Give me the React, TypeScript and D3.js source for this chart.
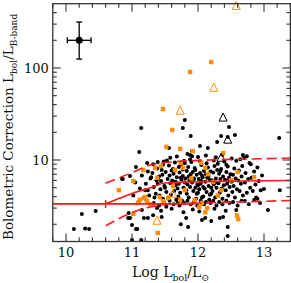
import React from 'react';
import * as d3 from 'd3';

// black dots: [log Lbol, bolometric correction]
const blackPoints: [number, number][] = [
  [10.12, 1.78], [10.24, 2.59], [10.29, 1.8], [10.35, 1.78], [10.45, 2.79],
  [10.86, 6.2], [10.97, 6.7], [10.97, 2.34], [11.0, 1.96], [11.08, 1.78], [11.0, 1.35],
  [11.06, 8.4], [11.11, 12.2], [11.14, 22.3], [11.23, 9.3], [11.39, 9.5],
  [10.94, 2.34], [10.95, 2.66], [11.15, 2.86], [11.18, 2.34], [11.24, 2.34], [11.06, 1.78],
  [11.32, 2.5], [11.38, 3.0], [11.29, 6.5], [11.2, 4.7], [11.24, 4.7], [11.39, 6.2], [10.85, 6.2],
  [11.8, 27.2], [11.77, 22.3], [11.89, 18.2], [12.35, 18.2], [12.47, 22.9], [12.45, 17.8],
  [12.56, 18.7], [13.23, 17.3], [12.03, 14.2], [12.29, 15.7], [11.56, 13.5], [12.15, 13.5],
  [11.91, 12.5], [11.88, 11.3], [12.68, 11.3], [12.74, 11.0], [12.7, 10.5],
  [13.24, 4.7], [13.0, 4.84], [13.06, 2.86],
  [11.45, 2.4], [11.82, 2.34], [11.74, 2.0], [11.85, 1.87], [12.11, 2.34], [12.2, 2.17],
  [12.33, 2.34], [12.38, 2.4], [12.45, 1.49], [12.58, 2.86], [12.71, 3.58], [12.85, 3.67],
  [12.94, 3.41], [12.06, 2.22], [12.45, 1.87], [11.14, 1.35],
  [11.21, 5.5], [11.24, 7.5], [11.26, 4.1], [11.28, 6.3], [11.22, 3.6],
  [11.12, 4.9], [11.15, 6.8], [11.18, 3.9], [11.05, 5.7], [11.1, 3.5], [11.02, 4.1],
  [11.31, 7.2], [11.33, 5.1], [11.36, 4.3], [11.38, 8.1], [11.34, 3.9], [11.37, 6.0], [11.32, 9.0], [11.39, 5.5],
  [11.41, 6.6], [11.43, 4.8], [11.45, 7.8], [11.47, 3.8], [11.44, 5.9], [11.48, 9.6], [11.42, 4.1], [11.46, 6.9], [11.49, 5.2],
  [11.51, 7.4], [11.52, 4.5], [11.54, 6.2], [11.56, 8.7], [11.55, 3.9], [11.58, 5.6], [11.53, 9.9], [11.57, 6.8], [11.59, 4.2], [11.5, 5.0],
  [11.61, 6.0], [11.62, 8.0], [11.64, 4.6], [11.63, 7.1], [11.66, 5.3], [11.65, 9.4], [11.67, 3.7], [11.68, 6.5], [11.69, 4.9], [11.6, 7.7], [11.66, 5.8],
  [11.71, 5.5], [11.72, 7.3], [11.73, 4.4], [11.74, 8.9], [11.75, 6.1], [11.76, 3.6], [11.77, 6.7], [11.78, 5.0], [11.79, 9.8], [11.7, 4.0], [11.74, 6.4], [11.77, 7.9],
  [11.81, 6.3], [11.82, 4.7], [11.83, 7.6], [11.84, 5.4], [11.85, 8.4], [11.86, 3.9], [11.87, 6.0], [11.88, 5.1], [11.89, 7.0], [11.8, 9.2], [11.83, 4.3], [11.86, 6.6], [11.88, 10.1],
  [11.91, 5.7], [11.92, 7.4], [11.93, 4.6], [11.94, 6.3], [11.95, 8.2], [11.96, 5.0], [11.97, 3.8], [11.98, 6.9], [11.99, 5.4], [11.9, 9.5], [11.93, 6.0], [11.96, 7.8], [11.98, 4.3], [11.91, 11.0],
  [12.01, 6.2], [12.02, 4.8], [12.03, 7.2], [12.04, 5.5], [12.05, 8.8], [12.06, 3.9], [12.07, 6.5], [12.08, 5.1], [12.09, 7.6], [12.0, 4.4], [12.03, 9.7], [12.05, 5.9], [12.08, 4.0], [12.06, 6.8],
  [12.11, 5.8], [12.12, 7.0], [12.13, 4.5], [12.14, 6.4], [12.15, 8.3], [12.16, 5.2], [12.17, 3.7], [12.18, 6.1], [12.19, 7.5], [12.1, 4.9], [12.13, 9.2], [12.16, 6.7], [12.18, 4.2],
  [12.21, 6.0], [12.22, 4.6], [12.23, 7.3], [12.24, 5.4], [12.25, 8.6], [12.26, 3.9], [12.27, 6.3], [12.28, 5.0], [12.29, 7.8], [12.2, 4.3], [12.24, 9.9], [12.27, 5.7],
  [12.31, 5.6], [12.32, 7.1], [12.33, 4.4], [12.34, 6.2], [12.35, 8.0], [12.36, 4.9], [12.37, 3.8], [12.38, 6.6], [12.39, 5.3], [12.3, 9.1], [12.34, 7.6],
  [12.41, 6.1], [12.42, 4.7], [12.43, 7.4], [12.44, 5.5], [12.45, 8.5], [12.46, 4.1], [12.47, 6.4], [12.48, 5.1], [12.49, 7.0], [12.4, 9.6],
  [12.51, 5.8], [12.52, 4.5], [12.53, 6.9], [12.54, 5.2], [12.55, 8.1], [12.56, 3.9], [12.57, 6.3], [12.59, 4.8],
  [12.61, 6.0], [12.62, 7.7], [12.63, 4.6], [12.65, 5.5], [12.67, 8.6], [12.68, 4.1], [12.66, 6.6],
  [12.71, 5.7], [12.72, 7.2], [12.74, 4.4], [12.76, 6.2], [12.78, 9.3], [12.79, 5.0],
  [12.81, 6.4], [12.83, 4.6], [12.85, 7.5], [12.87, 5.4], [12.88, 3.9],
  [12.92, 5.9], [12.95, 4.7], [12.97, 6.8],
  // lower edge of the cloud
  [11.33, 3.4], [11.41, 3.2], [11.48, 3.5], [11.52, 3.1], [11.57, 3.6], [11.63, 3.3], [11.69, 3.5],
  [11.72, 3.2], [11.79, 3.4], [11.84, 3.6], [11.89, 3.3], [11.94, 3.5], [11.99, 3.2], [12.04, 3.6],
  [12.09, 3.3], [12.12, 3.5], [12.19, 3.4], [12.23, 3.6], [12.28, 3.2], [12.32, 3.5], [12.37, 3.3],
  [12.43, 3.6], [12.48, 3.4], [12.53, 3.5], [12.6, 3.2], [12.66, 3.6], [12.77, 3.3], [12.9, 3.8],
  [11.44, 2.8], [11.6, 2.95], [11.78, 2.7], [11.92, 2.9], [12.02, 2.75], [12.25, 2.95], [12.42, 2.8],
  // upper edge
  [11.58, 10.6], [11.68, 10.9], [11.84, 11.6], [12.0, 10.8], [12.12, 11.2], [12.27, 10.7],
  [12.37, 11.4], [12.51, 10.4], [12.58, 9.8], [12.64, 10.2], [12.8, 9.0], [12.9, 8.3],
  [11.47, 8.9], [11.71, 8.4], [12.43, 8.9], [12.2, 5.0], [12.0, 5.3], [11.8, 5.7], [12.46, 5.9],
];

const orangeSquares: [number, number][] = [
  [12.2, 116], [11.88, 90.6], [11.47, 35.8], [11.61, 21.2], [11.02, 5.9], [10.8, 4.7],
  [11.02, 2.6], [11.09, 3.41], [11.18, 3.86], [11.23, 3.58], [11.52, 13.9], [11.73, 13.2],
  [11.39, 1.61], [12.59, 2.5], [12.61, 2.28], [12.11, 2.7], [11.92, 12.5], [12.38, 11.9],
  [11.44, 8.6], [11.74, 9.3], [12.05, 9.3], [12.15, 7.0], [11.12, 3.7], [11.2, 3.96],
  [11.38, 6.4], [11.35, 8.2], [11.17, 7.8], [11.65, 7.8], [11.77, 8.2], [12.11, 8.2],
  [11.8, 4.7], [11.55, 3.86], [11.47, 3.58], [11.95, 3.67], [12.14, 3.0], [12.06, 3.41],
  [12.6, 7.4], [12.23, 5.76], [12.35, 4.7], [12.85, 6.5], [12.02, 3.1], [11.73, 3.7], [11.42, 3.96],
  [11.62, 5.2], [11.9, 6.3], [12.3, 4.1], [12.5, 6.0], [11.28, 3.3],
];

const orangeTriangles: [number, number][] = [
  [12.58, 470], [12.24, 60.6], [11.73, 34.1], [11.62, 4.27], [11.38, 2.17],
];

const blackTriangles: [number, number][] = [
  [12.38, 28.7], [12.45, 16.5], [12.35, 10.5],
];

// representative error bar
const errPoint = { logL: 10.2, bc: 200, dx: 0.18, low: 125, high: 316 };

// fit curves
const fitLogL = [10.6, 10.82, 11.02, 11.27, 11.5, 11.88, 12.64, 13.4];
const fitBC = [3.33, 3.86, 4.38, 4.97, 5.62, 5.77, 5.91, 5.98];
const upperLogL = [10.6, 11.02, 11.27, 11.58, 12.03, 12.94, 13.4];
const upperBC = [5.6, 7.4, 8.8, 9.5, 9.9, 10.3, 10.5];
const lowerLogL = [10.6, 11.02, 11.27, 11.58, 12.03, 12.48, 12.94, 13.4];
const lowerBC = [1.92, 2.72, 3.08, 3.33, 3.41, 3.48, 3.55, 3.63];
const constLogL = [9.8, 11.95];
const constBC = [3.33, 3.33];

const xMajor = [10, 11, 12, 13];
const yMajor = [10, 100];

const W = 291;
const H = 283;
const ORANGE = '#ff8c00';
const RED = '#ff1a1a';
const AXIS = '#333';
const FONT = '"DejaVu Serif", serif';

export default function App() {
  const x = d3.scaleLinear().domain([9.8, 13.4]).range([52.8, 290.4]);
  const y = d3.scaleLog().domain([1.3, 500]).range([241.5, 3.7]);
  const [x0, x1] = x.range();
  const [y0, y1] = y.range();

  const xMinor = d3.range(9.8, 13.41, 0.2).filter(v => Math.abs(v - Math.round(v)) > 0.01);
  const yMinor = [2, 3, 4, 5, 6, 7, 8, 9, 20, 30, 40, 50, 60, 70, 80, 90, 200, 300, 400];

  const line = (xs: number[], ys: number[]) =>
    d3.line<number>().x(i => x(xs[i])).y(i => y(ys[i])).curve(d3.curveMonotoneX)(xs.map((_, i) => i)) || '';

  const tri = (cx: number, cy: number, s: number) =>
    `M${cx},${cy - s * 0.6}L${cx + s / 2},${cy + s * 0.4}L${cx - s / 2},${cy + s * 0.4}Z`;

  return (
    <svg width={W} height={H} style={{ position: 'absolute', left: 0, top: 0, background: '#fff' }}
      fontFamily={FONT}>
      {/* points */}
      <g fill="#000">
        {blackPoints.map((d, i) => <circle key={i} cx={x(d[0])} cy={y(d[1])} r={2} />)}
      </g>
      <g fill={ORANGE}>
        {orangeSquares.map((d, i) => <rect key={i} x={x(d[0]) - 2.2} y={y(d[1]) - 2.2} width={4.4} height={4.4} />)}
      </g>
      <g fill="none" stroke={ORANGE} strokeWidth={1}>
        {orangeTriangles.map((d, i) => <path key={i} d={tri(x(d[0]), y(d[1]), 8)} />)}
      </g>
      <g fill="none" stroke="#000" strokeWidth={1}>
        {blackTriangles.map((d, i) => <path key={i} d={tri(x(d[0]), y(d[1]), 8)} />)}
      </g>

      {/* fit lines */}
      <path d={line(constLogL, constBC)} fill="none" stroke={RED} strokeWidth={1.6} />
      <path d={line(fitLogL, fitBC)} fill="none" stroke={RED} strokeWidth={1.6} />
      <path d={line(upperLogL, upperBC)} fill="none" stroke={RED} strokeWidth={1.6} strokeDasharray="10,5" />
      <path d={line(lowerLogL, lowerBC)} fill="none" stroke={RED} strokeWidth={1.6} strokeDasharray="10,5" />
      <g stroke={RED} strokeWidth={1.5}>
        <line x1={x(fitLogL[0])} x2={x(fitLogL[0])} y1={y(fitBC[0]) - 4} y2={y(fitBC[0]) + 4} />
      </g>

      {/* error bar point */}
      <g stroke="#000" strokeWidth={1.3}>
        <line x1={x(errPoint.logL - errPoint.dx)} x2={x(errPoint.logL + errPoint.dx)} y1={y(errPoint.bc)} y2={y(errPoint.bc)} />
        <line x1={x(errPoint.logL)} x2={x(errPoint.logL)} y1={y(errPoint.low)} y2={y(errPoint.high)} />
        <line x1={x(errPoint.logL) - 3} x2={x(errPoint.logL) + 3} y1={y(errPoint.low)} y2={y(errPoint.low)} />
        <line x1={x(errPoint.logL) - 3} x2={x(errPoint.logL) + 3} y1={y(errPoint.high)} y2={y(errPoint.high)} />
        <line x1={x(errPoint.logL - errPoint.dx)} x2={x(errPoint.logL - errPoint.dx)} y1={y(errPoint.bc) - 3} y2={y(errPoint.bc) + 3} />
        <line x1={x(errPoint.logL + errPoint.dx)} x2={x(errPoint.logL + errPoint.dx)} y1={y(errPoint.bc) - 3} y2={y(errPoint.bc) + 3} />
      </g>
      <circle cx={x(errPoint.logL)} cy={y(errPoint.bc)} r={3.5} fill="#000" />

      {/* frame and ticks */}
      <rect x={x0} y={y1} width={x1 - x0} height={y0 - y1} fill="none" stroke={AXIS} strokeWidth={1.3} />
      <g stroke={AXIS} strokeWidth={1.1}>
        {xMajor.map(v => (
          <g key={'xM' + v}>
            <line x1={x(v)} x2={x(v)} y1={y0} y2={y0 - 8} />
            <line x1={x(v)} x2={x(v)} y1={y1} y2={y1 + 8} />
          </g>
        ))}
        {xMinor.map(v => (
          <g key={'xm' + v}>
            <line x1={x(v)} x2={x(v)} y1={y0} y2={y0 - 4} />
            <line x1={x(v)} x2={x(v)} y1={y1} y2={y1 + 4} />
          </g>
        ))}
        {yMajor.map(v => (
          <g key={'yM' + v}>
            <line x1={x0} x2={x0 + 8} y1={y(v)} y2={y(v)} />
            <line x1={x1} x2={x1 - 8} y1={y(v)} y2={y(v)} />
          </g>
        ))}
        {yMinor.map(v => (
          <g key={'ym' + v}>
            <line x1={x0} x2={x0 + 4} y1={y(v)} y2={y(v)} />
            <line x1={x1} x2={x1 - 4} y1={y(v)} y2={y(v)} />
          </g>
        ))}
      </g>

      {/* tick labels */}
      <g fontSize={13} fill="#111">
        {xMajor.map(v => (
          <text key={'xl' + v} x={x(v)} y={257} textAnchor="middle">{v}</text>
        ))}
        {yMajor.map(v => (
          <text key={'yl' + v} x={x0 - 4} y={y(v) + 5} textAnchor="end">{v}</text>
        ))}
      </g>

      {/* axis titles */}
      <text x={132} y={277} fontSize={14} fill="#111">
        Log  L<tspan fontSize={9.5} dy={4}>bol</tspan><tspan dy={-4}>/L</tspan>
        <tspan fontSize={9.5} dy={4}>⊙</tspan>
      </text>
      <text transform="translate(13,240) rotate(-90)" fontSize={13.5} fill="#111">
        Bolometric Correction  L<tspan fontSize={9} dy={4}>bol</tspan><tspan dy={-4}>/L</tspan>
        <tspan fontSize={9} dy={4}>B-band</tspan>
      </text>
    </svg>
  );
}
